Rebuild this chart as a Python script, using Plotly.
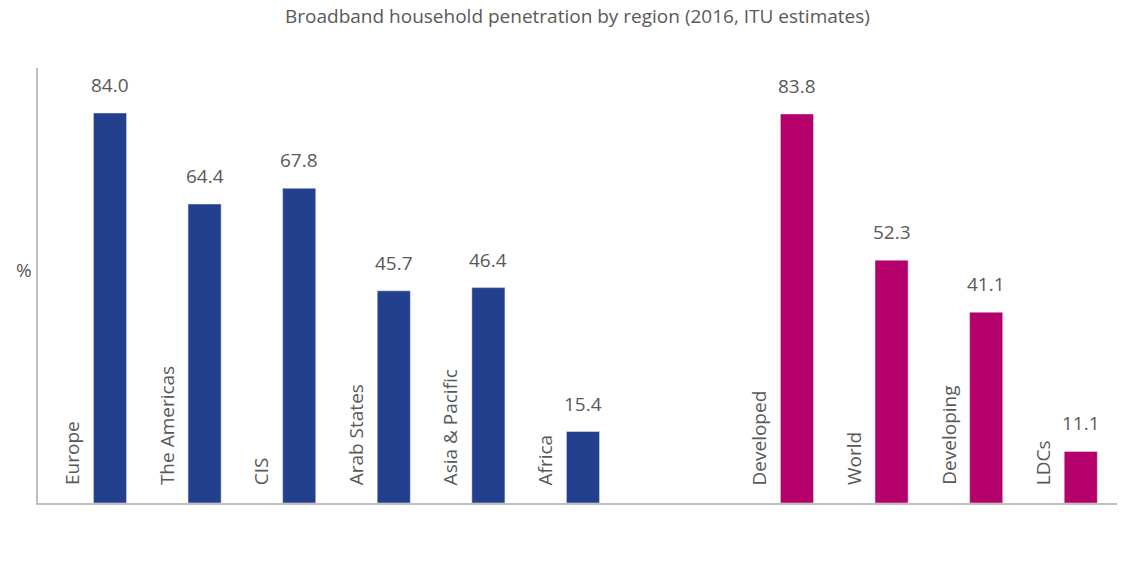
import plotly.graph_objects as go

title = "Broadband household penetration by region (2016, ITU estimates)"
regions = ["Europe", "The Americas", "CIS", "Arab States", "Asia & Pacific", "Africa"]
region_vals = [84.0, 64.4, 67.8, 45.7, 46.4, 15.4]
groups = ["Developed", "World", "Developing", "LDCs"]
group_vals = [83.8, 52.3, 41.1, 11.1]

BLUE = "#243F8E"
MAGENTA = "#B5006B"
GREY = "#595959"
FONT = "Open Sans"

fig = go.Figure()
fig.add_trace(go.Bar(x=regions, y=region_vals, marker_color=BLUE, width=0.35,
                     xaxis="x", yaxis="y", hoverinfo="x+y"))
fig.add_trace(go.Bar(x=groups, y=group_vals, marker_color=MAGENTA, width=0.35,
                     xaxis="x2", yaxis="y", hoverinfo="x+y"))

ann = []
for xr, cats, vals in (("x", regions, region_vals), ("x2", groups, group_vals)):
    for c, v in zip(cats, vals):
        ann.append(dict(x=c, y=v, xref=xr, yref="y", text=f"{v:.1f}", showarrow=False,
                        yanchor="bottom", yshift=13, font=dict(size=19, color=GREY, family=FONT)))
        ann.append(dict(x=c, y=0, xref=xr, yref="y", text=c, showarrow=False, textangle=-90,
                        xanchor="center", yanchor="bottom", xshift=-38, yshift=16,
                        font=dict(size=19, color=GREY, family=FONT)))
ann.append(dict(x=-0.022, y=0.535, xref="paper", yref="paper", text="%", showarrow=False,
                font=dict(size=19, color=GREY, family=FONT)))
ann.append(dict(x=0.5, y=1.119, xref="paper", yref="paper", text=title, showarrow=False,
                xanchor="center", yanchor="middle", font=dict(size=19, color=GREY, family=FONT)))

split = (700 - 38) / 1079
fig.update_layout(
    width=1123, height=563,
    margin=dict(l=38, r=6, t=68, b=60),
    paper_bgcolor="white", plot_bgcolor="white",
    showlegend=False,
    xaxis=dict(domain=[0, split], range=[-0.761, 6.237], showticklabels=False, ticks="",
               showline=True, linecolor="#BFBFBF", linewidth=1.5, showgrid=False, zeroline=False,
               fixedrange=True),
    xaxis2=dict(domain=[split, 1], range=[-1.025, 3.383], showticklabels=False, ticks="",
                showline=True, linecolor="#BFBFBF", linewidth=1.5, showgrid=False, zeroline=False,
                anchor="y", fixedrange=True),
    yaxis=dict(range=[0, 93.7], showticklabels=False, ticks="", showgrid=False, zeroline=False,
               showline=True, linecolor="#BFBFBF", linewidth=1.5, fixedrange=True),
    annotations=ann,
    font=dict(family=FONT, color=GREY),
)
fig.write_html("out.html", config={"displayModeBar": False},
               post_script="document.body.style.margin='0';")
